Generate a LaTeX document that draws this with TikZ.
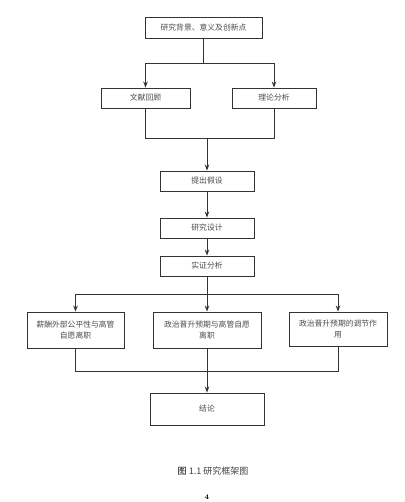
\documentclass[tikz,border=0pt]{standalone}
\usepackage{fontspec}
\newfontfamily\cjk{Noto Sans CJK SC}
\usetikzlibrary{positioning,arrows.meta}

\tikzset{
    stagebox/.style={draw=black!80, line width=0.9pt, fill=white, inner sep=1pt,
        align=center, text=black!70, font=\cjk\fontsize{7.8}{10.5}\selectfont},
    flowline/.style={draw=black!80, line width=0.9pt}
}

\begin{document}
\begin{tikzpicture}[>={Stealth[length=6pt,width=4.5pt]}, x=1pt, y=-1pt]
        \useasboundingbox (0,0) rectangle (404,502);

        % -----------------------
        % 1. Background and literature
        % -----------------------
        \node[stagebox, minimum width=117pt, minimum height=21pt] (bg) at (203.5, 27.5) {研究背景、意义及创新点};
        \node[stagebox, minimum width=89pt, minimum height=20pt] (lit) at (145.5, 98) {文献回顾};
        \node[stagebox, minimum width=84pt, minimum height=20pt] (theory) at (274, 98) {理论分析};

        % -----------------------
        % 2. Main line
        % -----------------------
        \node[stagebox, minimum width=94pt, minimum height=20pt] (hypo) at (207, 181) {提出假设};
        \node[stagebox, minimum width=94pt, minimum height=20pt] (design) at (207, 228) {研究设计};
        \node[stagebox, minimum width=94pt, minimum height=20pt] (empiric) at (207, 266) {实证分析};

        % -----------------------
        % 3. Three findings
        % -----------------------
        \node[stagebox, minimum width=97pt, minimum height=36pt] (fair) at (75.5, 330) {薪酬外部公平性与高管\\自愿离职};
        \node[stagebox, minimum width=108pt, minimum height=36pt] (promo) at (207, 330) {政治晋升预期与高管自愿\\离职};
        \node[stagebox, minimum width=98pt, minimum height=34pt] (moder) at (338, 329) {政治晋升预期的调节作\\用};

        % -----------------------
        % 4. Conclusion and caption
        % -----------------------
        \node[stagebox, minimum width=114pt, minimum height=32pt] (concl) at (207, 409) {结论};
        \node[font=\cjk\fontsize{9}{10}\selectfont, text=black!75] (caption) at (213, 471) {\textcolor{black}{图} 1.1 研究框架图};
        \node[font=\fontsize{7}{8}\selectfont\bfseries] (pagenum) at (207, 497) {4};

        % -----------------------
        % Connectors
        % -----------------------
        \coordinate (split1) at (207, 63);
        \coordinate (merge1) at (207, 138);
        \coordinate (split2) at (207, 294);
        \coordinate (merge2) at (207, 371);

        % background -> literature / theory
        \draw[flowline] (bg.south) -- (bg.south |- split1);
        \draw[flowline] (lit |- split1) -- (theory |- split1);
        \draw[flowline, ->] (lit |- split1) -- (lit.north);
        \draw[flowline, ->] (theory |- split1) -- (theory.north);

        % literature / theory -> hypotheses
        \draw[flowline] (lit.south) -- (lit |- merge1) -- (theory |- merge1) -- (theory.south);
        \draw[flowline, ->] (merge1) -- (hypo.north);

        % main line
        \draw[flowline, ->] (hypo.south) -- (design.north);
        \draw[flowline, ->] (design.south) -- (empiric.north);

        % empirics -> three findings
        \draw[flowline] (empiric.south) -- (split2);
        \draw[flowline] (fair |- split2) -- (moder |- split2);
        \draw[flowline, ->] (fair |- split2) -- (fair.north);
        \draw[flowline, ->] (split2) -- (promo.north);
        \draw[flowline, ->] (moder |- split2) -- (moder.north);

        % findings -> conclusion
        \draw[flowline] (fair.south) -- (fair |- merge2) -- (moder |- merge2) -- (moder.south);
        \draw[flowline, ->] (promo.south) -- (concl.north);

    \end{tikzpicture}
\end{document}
